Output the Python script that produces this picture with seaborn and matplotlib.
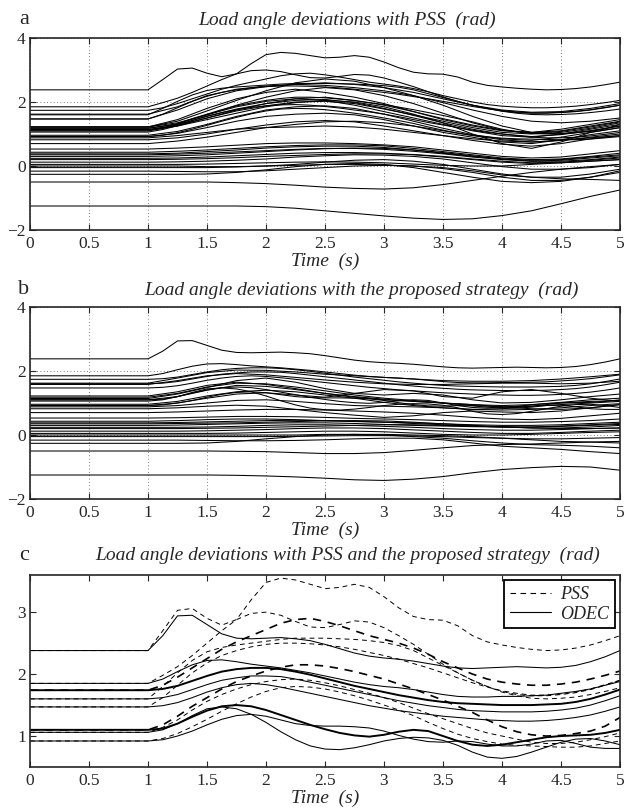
import pandas as pd
import matplotlib
matplotlib.use('Agg')
import matplotlib.pyplot as plt
from matplotlib.lines import Line2D
import seaborn as sns

# sample times (s); every trace is flat before the fault at t = 1 s
time_s = [0, 1, 1.25, 1.5, 1.75, 2, 2.25, 2.5, 2.75, 3, 3.25, 3.5, 3.75, 4, 4.25, 4.5, 4.75, 5]
# finer sampling for the generators that are also compared in panel c
time_c = [0, 1, 1.125, 1.25, 1.375, 1.5, 1.625, 1.75, 1.875, 2, 2.125, 2.25, 2.375, 2.5, 2.625,
          2.75, 2.875, 3, 3.125, 3.25, 3.375, 3.5, 3.625, 3.75, 3.875, 4, 4.125, 4.25, 4.375,
          4.5, 4.625, 4.75, 4.875, 5]
x_ticks = [0, 0.5, 1, 1.5, 2, 2.5, 3, 3.5, 4, 4.5, 5]
x_tick_labels = ['0', '0.5', '1', '1.5', '2', '2.5', '3', '3.5', '4', '4.5', '5']

# generators shown in panel c, PSS control (dashed)
c_pss = [
    [2.38, 2.38, 2.70, 3.03, 3.06, 2.90, 2.79, 2.88, 3.20, 3.48, 3.55, 3.52, 3.45, 3.38, 3.40, 3.45, 3.40,
     3.25, 3.07, 2.93, 2.88, 2.87, 2.78, 2.62, 2.52, 2.47, 2.43, 2.40, 2.38, 2.39, 2.42, 2.47, 2.54, 2.62],
    [1.85, 1.85, 1.98, 2.12, 2.30, 2.50, 2.70, 2.88, 2.98, 3.00, 2.95, 2.85, 2.76, 2.75, 2.80, 2.86, 2.84,
     2.75, 2.62, 2.48, 2.32, 2.16, 2.02, 1.90, 1.80, 1.72, 1.67, 1.65, 1.65, 1.67, 1.70, 1.75, 1.82, 1.90],
    [1.74, 1.74, 1.82, 1.95, 2.10, 2.25, 2.40, 2.52, 2.62, 2.72, 2.82, 2.88, 2.90, 2.85, 2.78, 2.70, 2.62,
     2.56, 2.50, 2.42, 2.32, 2.20, 2.10, 2.00, 1.92, 1.87, 1.84, 1.82, 1.82, 1.84, 1.87, 1.92, 1.98, 2.05],
    [1.60, 1.60, 1.80, 2.02, 2.22, 2.36, 2.43, 2.47, 2.50, 2.53, 2.56, 2.58, 2.58, 2.58, 2.57, 2.56, 2.54,
     2.51, 2.46, 2.38, 2.26, 2.14, 2.02, 1.90, 1.80, 1.71, 1.65, 1.61, 1.60, 1.61, 1.63, 1.67, 1.72, 1.78],
    [1.47, 1.47, 1.62, 1.82, 2.02, 2.18, 2.30, 2.38, 2.44, 2.48, 2.50, 2.50, 2.49, 2.47, 2.44, 2.40, 2.35,
     2.30, 2.24, 2.17, 2.10, 2.02, 1.94, 1.86, 1.79, 1.73, 1.69, 1.66, 1.66, 1.68, 1.71, 1.76, 1.83, 1.90],
    [1.10, 1.10, 1.18, 1.32, 1.48, 1.62, 1.76, 1.88, 1.97, 2.05, 2.11, 2.15, 2.15, 2.13, 2.09, 2.04, 1.98,
     1.92, 1.84, 1.76, 1.67, 1.58, 1.48, 1.38, 1.26, 1.15, 1.07, 1.02, 1.00, 1.01, 1.04, 1.08, 1.16, 1.30],
    [1.06, 1.06, 1.14, 1.26, 1.42, 1.56, 1.67, 1.76, 1.83, 1.88, 1.91, 1.92, 1.90, 1.86, 1.81, 1.75, 1.69,
     1.62, 1.54, 1.45, 1.36, 1.28, 1.20, 1.12, 1.05, 1.00, 0.95, 0.90, 0.88, 0.88, 0.90, 0.94, 0.99, 1.05],
    [0.92, 0.92, 0.96, 1.04, 1.15, 1.27, 1.40, 1.52, 1.63, 1.72, 1.78, 1.80, 1.79, 1.76, 1.71, 1.65, 1.58,
     1.50, 1.42, 1.33, 1.22, 1.12, 1.03, 0.96, 0.91, 0.87, 0.85, 0.84, 0.83, 0.82, 0.82, 0.84, 0.88, 0.92],
]
# same generators, proposed strategy / ODEC (solid)
c_odec = [
    [2.38, 2.38, 2.62, 2.94, 2.95, 2.80, 2.65, 2.58, 2.57, 2.58, 2.59, 2.57, 2.54, 2.48, 2.41, 2.34, 2.29,
     2.26, 2.24, 2.21, 2.17, 2.13, 2.10, 2.09, 2.10, 2.11, 2.12, 2.11, 2.10, 2.11, 2.14, 2.20, 2.28, 2.38],
    [1.85, 1.85, 1.92, 2.04, 2.15, 2.22, 2.23, 2.20, 2.16, 2.13, 2.10, 2.06, 2.02, 1.97, 1.92, 1.87, 1.83,
     1.80, 1.78, 1.75, 1.71, 1.67, 1.64, 1.63, 1.63, 1.64, 1.64, 1.65, 1.66, 1.69, 1.72, 1.76, 1.82, 1.88],
    [1.74, 1.74, 1.76, 1.81, 1.89, 1.97, 2.04, 2.08, 2.10, 2.10, 2.08, 2.04, 1.99, 1.93, 1.87, 1.81, 1.76,
     1.71, 1.66, 1.62, 1.58, 1.55, 1.53, 1.52, 1.51, 1.50, 1.50, 1.50, 1.51, 1.52, 1.55, 1.60, 1.67, 1.75],
    [1.60, 1.60, 1.62, 1.67, 1.75, 1.83, 1.90, 1.94, 1.97, 1.97, 1.96, 1.92, 1.87, 1.82, 1.77, 1.72, 1.67,
     1.62, 1.57, 1.53, 1.49, 1.46, 1.43, 1.41, 1.40, 1.39, 1.39, 1.39, 1.40, 1.42, 1.45, 1.50, 1.57, 1.65],
    [1.47, 1.47, 1.49, 1.54, 1.62, 1.71, 1.78, 1.83, 1.85, 1.83, 1.79, 1.74, 1.69, 1.64, 1.59, 1.54, 1.49,
     1.45, 1.41, 1.38, 1.35, 1.32, 1.30, 1.28, 1.26, 1.25, 1.24, 1.24, 1.25, 1.27, 1.30, 1.34, 1.40, 1.47],
    [1.10, 1.10, 1.12, 1.20, 1.31, 1.41, 1.48, 1.50, 1.48, 1.42, 1.34, 1.26, 1.18, 1.11, 1.05, 1.01, 0.99,
     1.02, 1.07, 1.10, 1.08, 1.00, 0.92, 0.86, 0.84, 0.86, 0.90, 0.94, 0.98, 1.00, 1.01, 1.02, 1.05, 1.10],
    [1.06, 1.06, 1.10, 1.20, 1.33, 1.44, 1.47, 1.44, 1.35, 1.22, 1.07, 0.94, 0.84, 0.79, 0.78, 0.81, 0.86,
     0.92, 0.96, 0.98, 0.97, 0.93, 0.85, 0.74, 0.66, 0.64, 0.67, 0.74, 0.82, 0.90, 0.95, 0.96, 0.92, 0.86],
    [0.92, 0.92, 0.94, 1.00, 1.08, 1.18, 1.27, 1.33, 1.35, 1.32, 1.26, 1.20, 1.17, 1.16, 1.16, 1.15, 1.13,
     1.08, 1.01, 0.95, 0.91, 0.90, 0.92, 0.91, 0.87, 0.84, 0.84, 0.87, 0.92, 0.93, 0.88, 0.82, 0.80, 0.80],
]
c_thick = [2, 5]  # traces drawn heavier in panel c

# remaining generators, PSS
pss_rest = [
    [1.47, 1.47, 1.75, 2.10, 2.35, 2.48, 2.55, 2.52, 2.45, 2.35, 2.20, 1.98, 1.75, 1.55, 1.40, 1.35, 1.40, 1.50],
    [1.22, 1.22, 1.40, 1.72, 2.05, 2.35, 2.60, 2.72, 2.65, 2.45, 2.20, 1.90, 1.55, 1.25, 1.05, 1.00, 1.10, 1.25],
    [1.18, 1.18, 1.32, 1.60, 1.90, 2.15, 2.35, 2.45, 2.38, 2.20, 1.95, 1.65, 1.35, 1.12, 1.02, 1.08, 1.22, 1.38],
    [1.22, 1.22, 1.35, 1.60, 1.85, 2.02, 2.10, 2.05, 1.90, 1.70, 1.50, 1.30, 1.10, 0.95, 0.90, 1.00, 1.15, 1.30],
    [1.18, 1.18, 1.30, 1.55, 1.78, 1.95, 2.05, 2.08, 1.98, 1.80, 1.58, 1.35, 1.15, 1.00, 0.92, 0.98, 1.10, 1.25],
    [1.14, 1.14, 1.28, 1.50, 1.72, 1.88, 2.00, 2.02, 1.95, 1.78, 1.60, 1.40, 1.20, 1.05, 1.00, 1.05, 1.18, 1.35],
    [1.14, 1.14, 1.25, 1.45, 1.65, 1.85, 1.98, 2.05, 2.00, 1.85, 1.62, 1.35, 1.00, 0.70, 0.55, 0.75, 1.05, 1.20],
    [0.96, 0.96, 1.08, 1.30, 1.55, 1.75, 1.85, 1.88, 1.80, 1.62, 1.40, 1.18, 0.98, 0.85, 0.80, 0.90, 1.05, 1.20],
    [0.92, 0.92, 1.02, 1.20, 1.40, 1.55, 1.62, 1.65, 1.60, 1.45, 1.25, 1.05, 0.90, 0.75, 0.70, 0.82, 0.98, 1.10],
    [0.88, 0.88, 0.95, 1.05, 1.15, 1.20, 1.22, 1.25, 1.22, 1.15, 1.05, 0.95, 0.85, 0.78, 0.75, 0.80, 0.90, 1.00],
    [0.82, 0.82, 0.88, 1.00, 1.15, 1.28, 1.38, 1.42, 1.38, 1.25, 1.10, 0.95, 0.80, 0.68, 0.62, 0.70, 0.85, 0.95],
    [1.62, 1.62, 1.85, 2.20, 2.40, 2.50, 2.55, 2.60, 2.55, 2.45, 2.30, 2.10, 1.90, 1.75, 1.68, 1.70, 1.80, 1.95],
    [1.22, 1.22, 1.45, 1.80, 2.10, 2.30, 2.40, 2.30, 2.15, 1.95, 1.70, 1.45, 1.25, 1.10, 1.05, 1.15, 1.30, 1.45],
    [1.10, 1.10, 1.25, 1.50, 1.75, 1.95, 2.10, 2.15, 2.05, 1.90, 1.70, 1.48, 1.28, 1.12, 1.05, 1.10, 1.25, 1.40],
    [0.70, 0.70, 0.78, 0.90, 1.05, 1.20, 1.30, 1.38, 1.40, 1.35, 1.25, 1.10, 0.95, 0.82, 0.75, 0.80, 0.88, 0.95],
    [0.53, 0.53, 0.56, 0.60, 0.65, 0.70, 0.72, 0.72, 0.70, 0.66, 0.60, 0.50, 0.40, 0.30, 0.25, 0.28, 0.38, 0.48],
    [0.43, 0.43, 0.46, 0.50, 0.55, 0.60, 0.64, 0.66, 0.66, 0.63, 0.55, 0.45, 0.35, 0.25, 0.20, 0.22, 0.30, 0.40],
    [0.38, 0.38, 0.40, 0.45, 0.50, 0.56, 0.60, 0.62, 0.62, 0.58, 0.50, 0.40, 0.30, 0.22, 0.18, 0.20, 0.28, 0.35],
    [0.35, 0.35, 0.37, 0.40, 0.44, 0.48, 0.52, 0.55, 0.55, 0.52, 0.46, 0.38, 0.28, 0.20, 0.15, 0.18, 0.25, 0.32],
    [0.30, 0.30, 0.32, 0.35, 0.40, 0.45, 0.50, 0.54, 0.56, 0.55, 0.50, 0.42, 0.32, 0.22, 0.15, 0.15, 0.20, 0.28],
    [0.24, 0.24, 0.25, 0.28, 0.32, 0.36, 0.40, 0.42, 0.42, 0.40, 0.35, 0.28, 0.20, 0.12, 0.08, 0.10, 0.15, 0.20],
    [0.20, 0.20, 0.21, 0.23, 0.26, 0.30, 0.33, 0.36, 0.38, 0.38, 0.36, 0.30, 0.22, 0.15, 0.10, 0.12, 0.18, 0.25],
    [0.12, 0.12, 0.13, 0.15, 0.18, 0.22, 0.28, 0.32, 0.35, 0.34, 0.30, 0.22, 0.10, -0.02, -0.10, -0.10, -0.05, 0.05],
    [0.05, 0.05, 0.05, 0.06, 0.08, 0.10, 0.12, 0.13, 0.12, 0.10, 0.06, 0.02, 0.00, 0.00, 0.05, 0.10, 0.15, 0.20],
    [0.00, 0.00, 0.00, -0.02, -0.02, 0.00, 0.05, 0.12, 0.18, 0.20, 0.15, 0.05, -0.10, -0.25, -0.35, -0.40, -0.42, -0.45],
    [-0.05, -0.05, -0.05, -0.05, -0.03, 0.00, 0.02, 0.05, 0.05, 0.03, 0.00, -0.05, -0.15, -0.28, -0.35, -0.35, -0.25, -0.10],
    [-0.16, -0.16, -0.17, -0.18, -0.18, -0.15, -0.10, -0.05, 0.00, 0.02, 0.00, -0.08, -0.20, -0.35, -0.45, -0.45, -0.35, -0.20],
    [-0.26, -0.26, -0.26, -0.25, -0.20, -0.12, -0.02, 0.05, 0.08, 0.05, -0.05, -0.20, -0.35, -0.48, -0.52, -0.48, -0.35, -0.15],
    [-0.50, -0.50, -0.50, -0.50, -0.52, -0.55, -0.60, -0.66, -0.70, -0.72, -0.68, -0.58, -0.45, -0.32, -0.20, -0.10, -0.02, 0.05],
    [-1.25, -1.25, -1.25, -1.25, -1.25, -1.27, -1.32, -1.40, -1.48, -1.56, -1.63, -1.67, -1.65, -1.55, -1.40, -1.18, -0.95, -0.75],
]

# remaining generators, proposed strategy
odec_rest = [
    [1.62, 1.62, 1.78, 1.95, 2.03, 2.02, 1.97, 1.90, 1.85, 1.80, 1.75, 1.70, 1.68, 1.68, 1.70, 1.75, 1.82, 1.90],
    [1.58, 1.58, 1.70, 1.85, 1.92, 1.88, 1.80, 1.72, 1.65, 1.60, 1.58, 1.58, 1.60, 1.62, 1.62, 1.60, 1.62, 1.68],
    [1.22, 1.22, 1.35, 1.55, 1.65, 1.58, 1.45, 1.30, 1.20, 1.12, 1.05, 1.00, 0.95, 0.92, 0.95, 1.02, 1.10, 1.15],
    [1.18, 1.18, 1.30, 1.50, 1.62, 1.60, 1.50, 1.38, 1.25, 1.15, 1.08, 1.00, 0.92, 0.88, 0.90, 0.95, 1.00, 1.05],
    [1.14, 1.14, 1.28, 1.48, 1.70, 1.78, 1.65, 1.45, 1.30, 1.25, 1.30, 1.25, 1.10, 1.00, 1.02, 1.10, 1.20, 1.28],
    [1.10, 1.10, 1.20, 1.40, 1.55, 1.52, 1.42, 1.30, 1.18, 1.10, 1.05, 1.00, 0.95, 0.88, 0.82, 0.80, 0.85, 0.95],
    [0.96, 0.96, 1.05, 1.22, 1.35, 1.40, 1.35, 1.25, 1.15, 1.02, 0.92, 0.85, 0.80, 0.82, 0.90, 1.00, 1.05, 1.08],
    [0.92, 0.92, 1.00, 1.15, 1.28, 1.32, 1.25, 1.18, 1.30, 1.42, 1.38, 1.20, 1.15, 1.35, 1.42, 1.30, 1.15, 1.05],
    [0.88, 0.88, 0.92, 1.00, 1.08, 1.10, 1.05, 0.98, 0.92, 0.90, 0.88, 0.85, 0.80, 0.78, 0.80, 0.85, 0.92, 0.98],
    [0.82, 0.82, 0.85, 0.90, 0.93, 0.90, 0.80, 0.70, 0.62, 0.55, 0.60, 0.70, 0.75, 0.72, 0.70, 0.75, 0.85, 0.95],
    [0.70, 0.70, 0.72, 0.75, 0.78, 0.80, 0.80, 0.78, 0.75, 0.72, 0.68, 0.62, 0.55, 0.50, 0.48, 0.52, 0.60, 0.68],
    [0.53, 0.53, 0.54, 0.56, 0.58, 0.58, 0.57, 0.55, 0.52, 0.50, 0.48, 0.45, 0.42, 0.40, 0.40, 0.42, 0.45, 0.50],
    [0.43, 0.43, 0.45, 0.48, 0.50, 0.50, 0.48, 0.45, 0.42, 0.40, 0.38, 0.35, 0.32, 0.30, 0.30, 0.32, 0.36, 0.40],
    [0.38, 0.38, 0.39, 0.41, 0.43, 0.45, 0.46, 0.45, 0.43, 0.40, 0.36, 0.32, 0.28, 0.25, 0.25, 0.28, 0.32, 0.36],
    [0.35, 0.35, 0.36, 0.37, 0.38, 0.40, 0.42, 0.44, 0.45, 0.44, 0.40, 0.35, 0.30, 0.26, 0.22, 0.22, 0.25, 0.30],
    [0.30, 0.30, 0.31, 0.33, 0.35, 0.37, 0.38, 0.38, 0.36, 0.33, 0.30, 0.28, 0.26, 0.25, 0.25, 0.27, 0.30, 0.33],
    [0.24, 0.24, 0.24, 0.25, 0.27, 0.30, 0.32, 0.32, 0.30, 0.27, 0.24, 0.20, 0.17, 0.15, 0.15, 0.17, 0.20, 0.22],
    [0.20, 0.20, 0.20, 0.21, 0.22, 0.24, 0.26, 0.28, 0.30, 0.32, 0.32, 0.30, 0.28, 0.25, 0.22, 0.20, 0.20, 0.22],
    [0.12, 0.12, 0.12, 0.13, 0.15, 0.17, 0.20, 0.22, 0.22, 0.20, 0.16, 0.12, 0.08, 0.05, 0.05, 0.08, 0.12, 0.15],
    [0.05, 0.05, 0.05, 0.05, 0.06, 0.08, 0.10, 0.12, 0.12, 0.10, 0.06, 0.02, 0.00, 0.00, 0.02, 0.05, 0.08, 0.10],
    [0.00, 0.00, 0.00, 0.00, 0.00, 0.00, 0.00, 0.02, 0.02, 0.00, -0.05, -0.10, -0.18, -0.25, -0.30, -0.32, -0.35, -0.40],
    [-0.05, -0.05, -0.05, -0.05, -0.05, -0.05, -0.04, -0.03, -0.02, -0.02, -0.03, -0.05, -0.08, -0.10, -0.12, -0.12, -0.10, -0.08],
    [-0.16, -0.16, -0.16, -0.17, -0.18, -0.18, -0.17, -0.15, -0.12, -0.10, -0.10, -0.15, -0.25, -0.35, -0.40, -0.45, -0.52, -0.58],
    [-0.26, -0.26, -0.26, -0.25, -0.20, -0.12, -0.05, 0.00, 0.02, 0.02, 0.00, -0.02, -0.05, -0.10, -0.15, -0.20, -0.22, -0.25],
    [-0.50, -0.50, -0.50, -0.50, -0.51, -0.52, -0.55, -0.58, -0.58, -0.55, -0.48, -0.40, -0.33, -0.30, -0.28, -0.25, -0.22, -0.20],
    [-1.25, -1.25, -1.25, -1.25, -1.26, -1.28, -1.31, -1.35, -1.40, -1.42, -1.38, -1.30, -1.18, -1.08, -1.02, -0.98, -1.00, -1.10],
]

titles = ['Load angle deviations with PSS  (rad)',
          'Load angle deviations with the proposed strategy  (rad)',
          'Load angle deviations with PSS and the proposed strategy  (rad)']
panel_letters = ['a', 'b', 'c']


def long_form(traces, times, offset=0):
    rows = []
    for i, vals in enumerate(traces):
        for t, v in zip(times, vals):
            rows.append({'line': i + offset, 'time': t, 'angle': v})
    return pd.DataFrame(rows)


sns.set_style('ticks')
plt.rcParams['font.family'] = ['Liberation Serif', 'DejaVu Serif']
plt.rcParams['xtick.direction'] = 'in'
plt.rcParams['ytick.direction'] = 'in'
plt.rcParams['xtick.top'] = True
plt.rcParams['ytick.right'] = True

W, H = 627, 808
fig = plt.figure(figsize=(W / 100, H / 100), dpi=100)

# axes boxes in pixels: left, top, right, bottom
boxes = [(30, 38, 620, 230), (30, 307, 620, 499), (30, 575, 620, 767)]
title_x = [347, 361, 348]
title_y = [20, 290, 555]
axes = []
for (l, t, r, b) in boxes:
    axes.append(fig.add_axes([l / W, 1 - b / H, (r - l) / W, (b - t) / H]))

df_a = pd.concat([long_form(c_pss, time_c), long_form(pss_rest, time_s, 100)])
df_b = pd.concat([long_form(c_odec, time_c), long_form(odec_rest, time_s, 100)])

for ax, df in zip(axes[:2], [df_a, df_b]):
    sns.lineplot(data=df, x='time', y='angle', units='line', estimator=None,
                 color='black', lw=0.75, legend=False, ax=ax)
    ax.set_ylim(-2, 4)
    ax.set_yticks([-2, 0, 2, 4])
    ax.grid(True, ls=(0, (1, 3)), color='#555555', lw=0.6)

ax = axes[2]
for i, vals in enumerate(c_pss):
    sns.lineplot(x=time_c, y=vals, ax=ax, color='black',
                 lw=1.2 if i in c_thick else 0.7)
    ax.lines[-1].set_dashes([5, 4])
for i, vals in enumerate(c_odec):
    sns.lineplot(x=time_c, y=vals, ax=ax, color='black',
                 lw=1.4 if i in c_thick else 0.75)
ax.set_ylim(0.5, 3.6)
ax.set_yticks([1, 2, 3])
handles = [Line2D([], [], color='black', lw=0.8, dashes=[5, 4]),
           Line2D([], [], color='black', lw=0.8)]
leg = ax.legend(handles, ['PSS', 'ODEC'], loc='upper right', frameon=True,
                fancybox=False, edgecolor='black', framealpha=1,
                prop={'style': 'italic', 'size': 13}, handlelength=2.3,
                borderaxespad=0.3, borderpad=0.3, labelspacing=0.15,
                handletextpad=0.5)
leg.get_frame().set_linewidth(1.3)

for k, ax in enumerate(axes):
    ax.set_xlim(0, 5)
    ax.set_xticks(x_ticks)
    ax.set_xticklabels(x_tick_labels)
    ax.tick_params(labelsize=12.5, length=4, width=0.8, pad=3)
    ax.tick_params(axis='x', pad=4)
    ax.set_xlabel('Time  (s)', fontsize=14, style='italic', labelpad=0.5)
    ax.set_ylabel('')
    for s in ax.spines.values():
        s.set_linewidth(1.2)
    fig.text(title_x[k] / W, 1 - title_y[k] / H, titles[k], ha='center', va='center',
             fontsize=14, style='italic')
    fig.text(24 / W, 1 - title_y[k] / H, panel_letters[k], ha='center', va='center',
             fontsize=16)

fig.savefig('out.png', dpi=100)
